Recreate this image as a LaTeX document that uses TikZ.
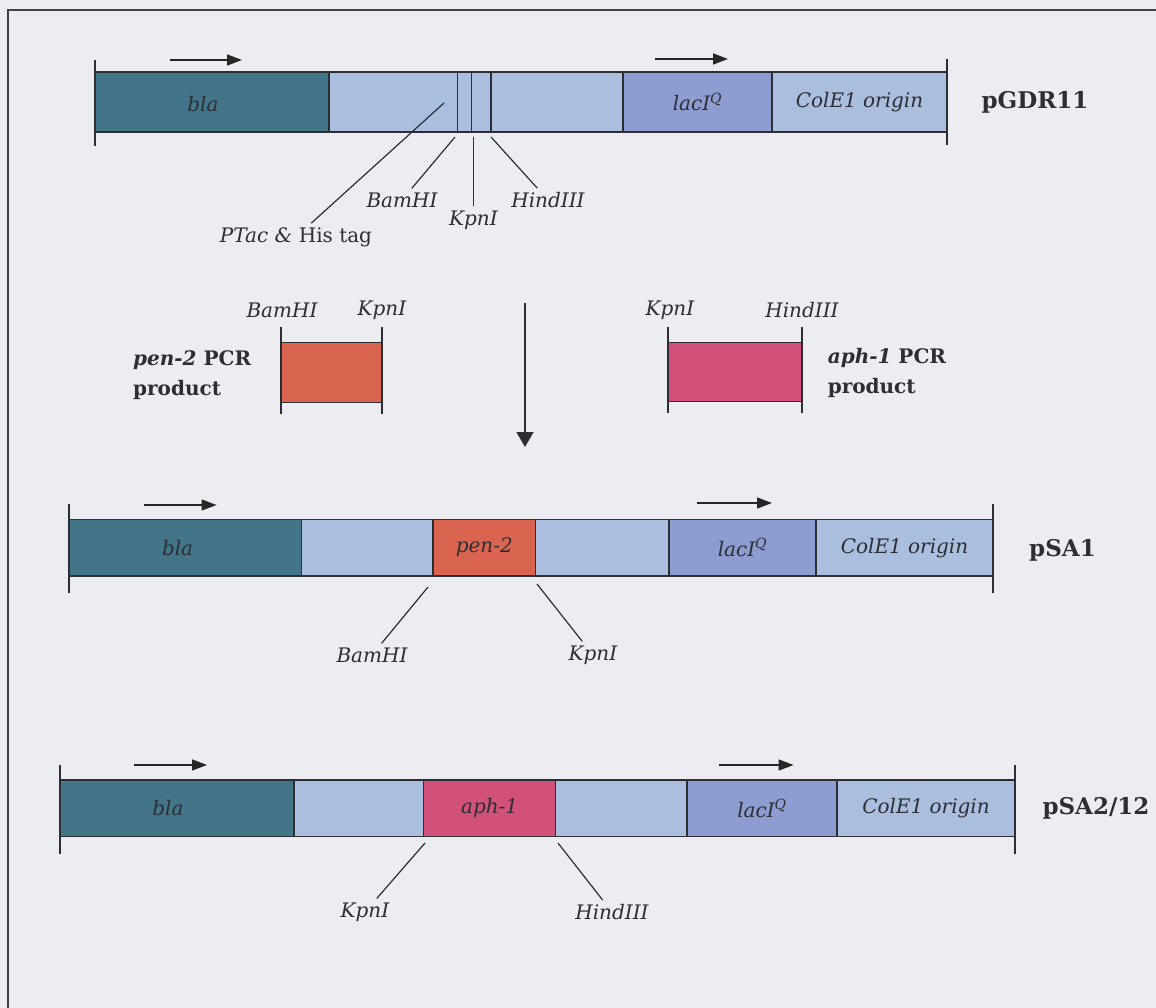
\documentclass[tikz,border=0pt]{standalone}
\usepackage{fontspec}
\setmainfont{DejaVu Serif}
\usetikzlibrary{arrows.meta}
\definecolor{bgc}{RGB}{236,236,243}
\definecolor{blac}{RGB}{65,117,135}
\definecolor{ltb}{RGB}{170,190,221}
\definecolor{lacc}{RGB}{141,156,209}
\definecolor{penc}{RGB}{217,101,80}
\definecolor{aphc}{RGB}{209,81,121}
\definecolor{inkc}{RGB}{45,45,52}
\tikzset{
  segbox/.style={draw=inkc, line width=1.3pt, inner sep=0pt, outer sep=0pt,
    font=\itshape\fontsize{20}{24}\selectfont, text=inkc},
  tickln/.style={draw=inkc, line width=1.4pt},
  leader/.style={draw=inkc, line width=1.2pt},
  frameln/.style={draw=inkc!90, line width=1.5pt},
  dirarrow/.style={draw=black!85, line width=1.5pt, -{Triangle[length=15pt,width=11pt]}},
  downarrow/.style={draw=inkc, line width=1.5pt, -{Triangle[length=15pt,width=17pt]}},
  sitelab/.style={font=\itshape\fontsize{20}{24}\selectfont, text=inkc, inner sep=4pt},
  plasname/.style={font=\bfseries\fontsize{23}{27}\selectfont, text=inkc},
  pcrlab/.style={font=\bfseries\fontsize{20}{30}\selectfont, text=inkc, align=left, anchor=west, inner sep=0pt},
}
\newcommand\mkseg[7]{\node[segbox, fill=#6, minimum width={(#3)-(#2)}, minimum height={(#5)-(#4)}] (#1) at ({((#2)+(#3))/2},{((#4)+(#5))/2}) {#7};}
\begin{document}
\begin{tikzpicture}[x=1pt,y=-1pt]
\useasboundingbox (0,0) rectangle (1156,1008);
\fill[bgc] (0,0) rectangle (1156,1008);
\draw[frameln] (1156,10) -- (8,10) -- (8,1008);

% ---------------- pGDR11 ----------------
\mkseg{ra}{95}{329}{72}{132}{blac}{}
\mkseg{rb}{329}{457.6}{72}{132}{ltb}{}
\mkseg{rc}{457.6}{471.7}{72}{132}{ltb}{}
\mkseg{rd}{471.7}{491}{72}{132}{ltb}{}
\mkseg{re}{491}{623}{72}{132}{ltb}{}
\mkseg{rf}{623}{772}{72}{132}{lacc}{lacI\textsuperscript{Q}}
\mkseg{rg}{772}{947}{72}{132}{ltb}{ColE1 origin}
\node[sitelab, inner sep=0pt] (rabla) at (203,104) {bla};
\draw[tickln] ([yshift=12pt]ra.north west) -- ([yshift=-14pt]ra.south west);
\draw[tickln] ([yshift=13pt]rg.north east) -- ([yshift=-13pt]rg.south east);
\coordinate (ra1) at (170,60); \coordinate (ra2) at (242,60);
\draw[dirarrow] (ra1) -- (ra2);
\coordinate (rf1) at (655,59); \coordinate (rf2) at (728,59);
\draw[dirarrow] (rf1) -- (rf2);
\node[plasname] (pgdr) at (1035,102) {pGDR11};

\coordinate (ptacS) at (444,103);
\coordinate (bamS) at (455,137);
\coordinate (kpnS) at (473.5,137);
\coordinate (hindS) at (491,137);
\node[sitelab] (ptacL) at (296,237) {PTac \& \upshape His tag};
\node[sitelab] (bamL) at (402,200) {BamHI};
\node[sitelab] (kpnL) at (473.5,220) {KpnI};
\node[sitelab] (hindL) at (548,200) {HindIII};
\draw[leader] (ptacS) -- (ptacL);
\draw[leader] (bamS) -- (bamL);
\draw[leader] (kpnS) -- (kpnL);
\draw[leader] (hindS) -- (hindL);

% ---------------- PCR products ----------------
\mkseg{pen}{281}{382}{342.7}{402.7}{penc}{}
\draw[tickln] ([yshift=15.4pt]pen.north west) -- ([yshift=-11.3pt]pen.south west);
\draw[tickln] ([yshift=15.4pt]pen.north east) -- ([yshift=-11.3pt]pen.south east);
\node[sitelab] (penbam) at (282,310) {BamHI};
\node[sitelab] (penkpn) at (382,310) {KpnI};
\node[pcrlab] (penlab) at (133,375) {{\itshape pen-2} PCR\\product};

\mkseg{aph}{668}{802}{342.7}{401.7}{aphc}{}
\draw[tickln] ([yshift=16pt]aph.north west) -- ([yshift=-11.3pt]aph.south west);
\draw[tickln] ([yshift=16pt]aph.north east) -- ([yshift=-11.3pt]aph.south east);
\node[sitelab] (aphkpn) at (670,310) {KpnI};
\node[sitelab] (aphhind) at (802,310) {HindIII};
\node[pcrlab] (aphlab) at (827.6,373) {{\itshape aph-1} PCR\\product};

\coordinate (dn1) at (525,303); \coordinate (dn2) at (525,447);
\draw[downarrow] (dn1) -- (dn2);

% ---------------- pSA1 ----------------
\mkseg{sa}{69}{301.5}{519.3}{576}{blac}{}
\mkseg{sb}{301.5}{433}{519.3}{576}{ltb}{}
\mkseg{sc}{433}{535.7}{519.3}{576}{penc}{pen-2}
\mkseg{sd}{535.7}{669}{519.3}{576}{ltb}{}
\mkseg{se}{669}{816}{519.3}{576}{lacc}{lacI\textsuperscript{Q}}
\mkseg{sf}{816}{993}{519.3}{576}{ltb}{ColE1 origin}
\node[sitelab, inner sep=0pt] (sabla) at (177.6,548) {bla};
\draw[tickln] ([yshift=15pt]sa.north west) -- ([yshift=-16.7pt]sa.south west);
\draw[tickln] ([yshift=15pt]sf.north east) -- ([yshift=-16.7pt]sf.south east);
\coordinate (sa1) at (143.5,505); \coordinate (sa2) at (216.5,505);
\draw[dirarrow] (sa1) -- (sa2);
\coordinate (se1) at (697,503); \coordinate (se2) at (772,503);
\draw[dirarrow] (se1) -- (se2);
\node[plasname] (psa1) at (1062.5,550) {pSA1};
\coordinate (sbamS) at (428,587);
\coordinate (skpnS) at (537,584);
\node[sitelab] (sbamL) at (372,655) {BamHI};
\node[sitelab] (skpnL) at (593,655) {KpnI};
\draw[leader] (sbamS) -- (sbamL);
\draw[leader] (skpnS) -- (skpnL);

% ---------------- pSA2/12 ----------------
\mkseg{ta}{60}{294}{780}{836.7}{blac}{}
\mkseg{tb}{294}{423.6}{780}{836.7}{ltb}{}
\mkseg{tc}{423.6}{555.7}{780}{836.7}{aphc}{aph-1}
\mkseg{td}{555.7}{687}{780}{836.7}{ltb}{}
\mkseg{te}{687}{837}{780}{836.7}{lacc}{lacI\textsuperscript{Q}}
\mkseg{tf}{837}{1015}{780}{836.7}{ltb}{ColE1 origin}
\node[sitelab, inner sep=0pt] (tabla) at (168,808) {bla};
\draw[tickln] ([yshift=15pt]ta.north west) -- ([yshift=-17.3pt]ta.south west);
\draw[tickln] ([yshift=15pt]tf.north east) -- ([yshift=-17.3pt]tf.south east);
\coordinate (ta1) at (134,765); \coordinate (ta2) at (207,765);
\draw[dirarrow] (ta1) -- (ta2);
\coordinate (te1) at (718.5,765); \coordinate (te2) at (793.6,765);
\draw[dirarrow] (te1) -- (te2);
\node[plasname] (psa2) at (1096,808) {pSA2/12};
\coordinate (tkpnS) at (425,843);
\coordinate (thindS) at (558,843);
\node[sitelab] (tkpnL) at (365,912) {KpnI};
\node[sitelab] (thindL) at (612,912) {HindIII};
\draw[leader] (tkpnS) -- (tkpnL);
\draw[leader] (thindS) -- (thindL);
\end{tikzpicture}
\end{document}
